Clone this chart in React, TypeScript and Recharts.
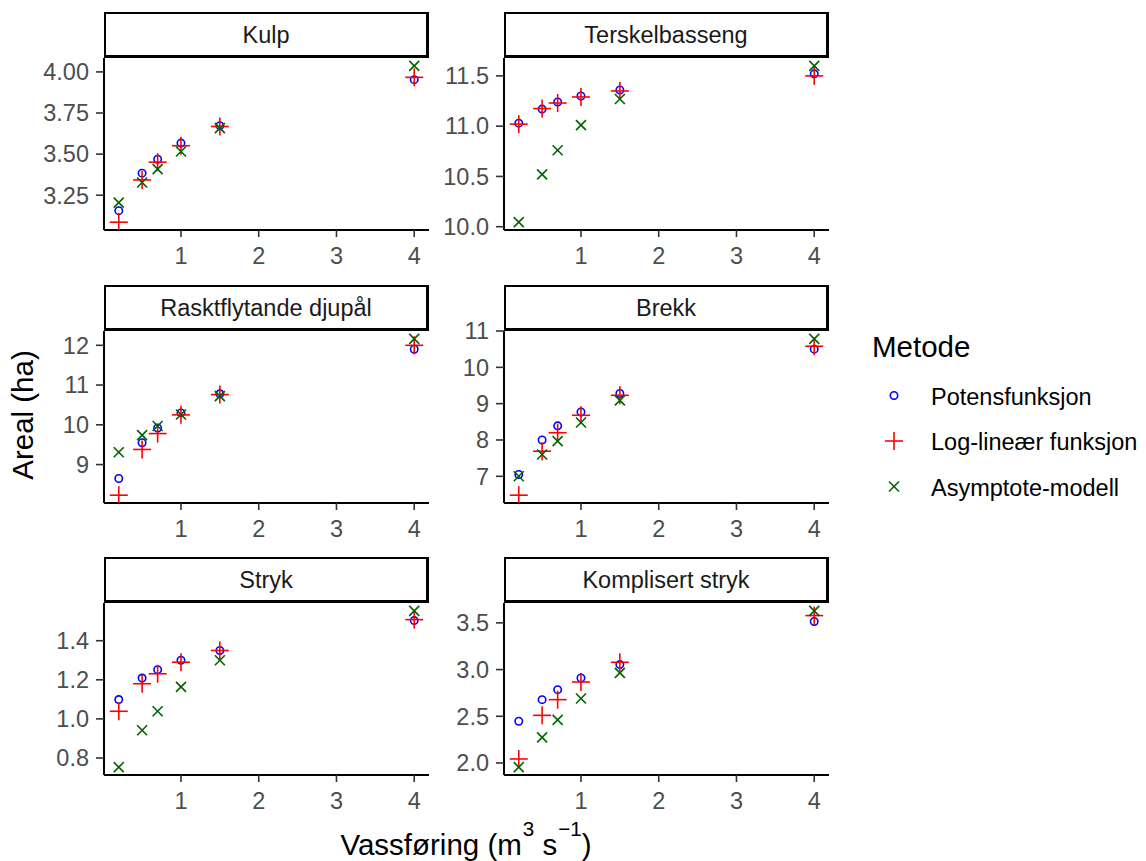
import React from 'react';
import { ScatterChart, Scatter, XAxis, YAxis } from 'recharts';

// ---------- data ----------
const xValues = [0.2, 0.5, 0.7, 1.0, 1.5, 4.0];
const xTicks = [1, 2, 3, 4];
const xTickLabels = ['1', '2', '3', '4'];

const methodNames = ['Potensfunksjon', 'Log-lineær funksjon', 'Asymptote-modell'];
const panelNames = ['Kulp', 'Terskelbasseng', 'Rasktflytande djupål', 'Brekk', 'Stryk', 'Komplisert stryk'];

const kulpPotens = [3.156, 3.384, 3.469, 3.567, 3.673, 3.953];
const kulpLogLin = [3.086, 3.343, 3.451, 3.551, 3.668, 3.967];
const kulpAsymp = [3.205, 3.327, 3.409, 3.516, 3.658, 4.037];
const kulpTicks = [3.25, 3.5, 3.75, 4.0];
const kulpTickLabels = ['3.25', '3.50', '3.75', '4.00'];

const terskelPotens = [11.03, 11.17, 11.24, 11.3, 11.36, 11.52];
const terskelLogLin = [11.02, 11.175, 11.23, 11.29, 11.35, 11.5];
const terskelAsymp = [10.045, 10.52, 10.76, 11.01, 11.27, 11.6];
const terskelTicks = [10.0, 10.5, 11.0, 11.5];
const terskelTickLabels = ['10.0', '10.5', '11.0', '11.5'];

const raskPotens = [8.65, 9.55, 9.92, 10.3, 10.78, 11.9];
const raskLogLin = [8.23, 9.38, 9.78, 10.25, 10.76, 12.0];
const raskAsymp = [9.31, 9.74, 9.97, 10.26, 10.72, 12.163];
const raskTicks = [9, 10, 11, 12];
const raskTickLabels = ['9', '10', '11', '12'];

const brekkPotens = [7.05, 8.0, 8.39, 8.77, 9.28, 10.5];
const brekkLogLin = [6.48, 7.69, 8.2, 8.68, 9.23, 10.58];
const brekkAsymp = [7.0, 7.6, 7.97, 8.48, 9.09, 10.785];
const brekkTicks = [7, 8, 9, 10, 11];
const brekkTickLabels = ['7', '8', '9', '10', '11'];

const strykPotens = [1.099, 1.209, 1.252, 1.3, 1.35, 1.503];
const strykLogLin = [1.039, 1.18, 1.231, 1.29, 1.35, 1.508];
const strykAsymp = [0.753, 0.942, 1.039, 1.164, 1.3, 1.553];
const strykTicks = [0.8, 1.0, 1.2, 1.4];
const strykTickLabels = ['0.8', '1.0', '1.2', '1.4'];

const komplPotens = [2.447, 2.678, 2.785, 2.91, 3.053, 3.515];
const komplLogLin = [2.043, 2.51, 2.678, 2.867, 3.078, 3.578];
const komplAsymp = [1.955, 2.274, 2.462, 2.69, 2.965, 3.629];
const komplTicks = [2.0, 2.5, 3.0, 3.5];
const komplTickLabels = ['2.0', '2.5', '3.0', '3.5'];

// ---------- layout / style ----------
const FONT = '"Liberation Sans", Arial, Helvetica, sans-serif';
const COL_LEFT = [104, 504];
const ROW_TOP = [58, 331, 603];
const PLOT_W = 325;
const PLOT_H = 172;
const STRIP_H = 46;
const Y_AXIS_W = 100;
const X_AXIS_H = 50;
const RIGHT_M = 14;
const TOP_M = 20;
const SMALL = 23.5;
const BIG = 29.5;

const BLUE = '#0000FF';
const RED = '#FF0000';
const GREEN = '#006400';
const SW = 1.6;

const CircleShape = (p: any) => (
  <circle cx={p.cx} cy={p.cy} r={3.7} fill="none" stroke={BLUE} strokeWidth={SW} />
);
const PlusShape = (p: any) => (
  <g stroke={RED} strokeWidth={SW}>
    <line x1={p.cx - 9} y1={p.cy} x2={p.cx + 9} y2={p.cy} />
    <line x1={p.cx} y1={p.cy - 9} x2={p.cx} y2={p.cy + 9} />
  </g>
);
const CrossShape = (p: any) => (
  <g stroke={GREEN} strokeWidth={SW}>
    <line x1={p.cx - 5} y1={p.cy - 5} x2={p.cx + 5} y2={p.cy + 5} />
    <line x1={p.cx - 5} y1={p.cy + 5} x2={p.cx + 5} y2={p.cy - 5} />
  </g>
);

const expand = (vals: number[]): [number, number] => {
  const lo = Math.min(...vals);
  const hi = Math.max(...vals);
  const r = hi - lo;
  return [lo - 0.05 * r, hi + 0.05 * r];
};

type PanelProps = {
  name: string;
  potens: number[];
  loglin: number[];
  asymp: number[];
  ticks: number[];
  tickLabels: string[];
  left: number;
  top: number;
};

function Panel({ name, potens, loglin, asymp, ticks, tickLabels, left, top }: PanelProps) {
  const toData = (ys: number[]) => xValues.map((x, i) => ({ x, y: ys[i] }));
  const yDomain = expand([...potens, ...loglin, ...asymp]);
  const xDomain = expand(xValues);
  const tickStyle = { fill: '#4D4D4D', fontSize: SMALL, fontFamily: FONT };
  return (
    <>
      <div
        style={{
          position: 'absolute',
          left,
          top: top - STRIP_H,
          width: PLOT_W,
          height: STRIP_H,
          boxSizing: 'border-box',
          border: '2px solid #000',
          borderRight: '3px solid #000',
          borderBottom: '3px solid #000',
          background: '#fff',
          display: 'flex',
          alignItems: 'center',
          justifyContent: 'center',
          fontFamily: FONT,
          fontSize: SMALL,
          color: '#1A1A1A',
          lineHeight: 1,
          paddingTop: 2,
        }}
      >
        {name}
      </div>
      <div style={{ position: 'absolute', left: left - Y_AXIS_W, top: top - TOP_M }}>
        <ScatterChart
          width={Y_AXIS_W + PLOT_W + RIGHT_M}
          height={TOP_M + PLOT_H + X_AXIS_H}
          margin={{ top: TOP_M, right: RIGHT_M, bottom: 0, left: 0 }}
        >
          <XAxis
            type="number"
            dataKey="x"
            domain={xDomain}
            allowDataOverflow
            ticks={xTicks}
            interval={0}
            tickFormatter={(v: number) => xTickLabels[xTicks.indexOf(v)]}
            height={X_AXIS_H}
            axisLine={{ stroke: '#000', strokeWidth: 2 }}
            tickLine={{ stroke: '#333', strokeWidth: 1.6 }}
            tickSize={7}
            tickMargin={10}
            tick={tickStyle}
          />
          <YAxis
            type="number"
            dataKey="y"
            domain={yDomain}
            allowDataOverflow
            ticks={ticks}
            interval={0}
            tickFormatter={(v: number) => tickLabels[ticks.indexOf(v)]}
            width={Y_AXIS_W}
            axisLine={{ stroke: '#000', strokeWidth: 2 }}
            tickLine={{ stroke: '#333', strokeWidth: 1.6 }}
            tickSize={8}
            tickMargin={7}
            tick={tickStyle}
          />
          <Scatter data={toData(potens)} shape={CircleShape} isAnimationActive={false} />
          <Scatter data={toData(loglin)} shape={PlusShape} isAnimationActive={false} />
          <Scatter data={toData(asymp)} shape={CrossShape} isAnimationActive={false} />
        </ScatterChart>
      </div>
    </>
  );
}

const panels = [
  { potens: kulpPotens, loglin: kulpLogLin, asymp: kulpAsymp, ticks: kulpTicks, tickLabels: kulpTickLabels },
  { potens: terskelPotens, loglin: terskelLogLin, asymp: terskelAsymp, ticks: terskelTicks, tickLabels: terskelTickLabels },
  { potens: raskPotens, loglin: raskLogLin, asymp: raskAsymp, ticks: raskTicks, tickLabels: raskTickLabels },
  { potens: brekkPotens, loglin: brekkLogLin, asymp: brekkAsymp, ticks: brekkTicks, tickLabels: brekkTickLabels },
  { potens: strykPotens, loglin: strykLogLin, asymp: strykAsymp, ticks: strykTicks, tickLabels: strykTickLabels },
  { potens: komplPotens, loglin: komplLogLin, asymp: komplAsymp, ticks: komplTicks, tickLabels: komplTickLabels },
];

const legendY = [395.5, 441, 486.5];

export default function App() {
  return (
    <div
      style={{
        position: 'absolute',
        left: 0,
        top: 0,
        width: 1146,
        height: 861,
        background: '#fff',
        overflow: 'hidden',
        fontFamily: FONT,
      }}
    >
      {panels.map((p, i) => (
        <Panel
          key={panelNames[i]}
          name={panelNames[i]}
          {...p}
          left={COL_LEFT[i % 2]}
          top={ROW_TOP[Math.floor(i / 2)]}
        />
      ))}
      <svg
        width={1146}
        height={861}
        style={{ position: 'absolute', left: 0, top: 0, pointerEvents: 'none' }}
      >
        <text
          x={33}
          y={415}
          transform="rotate(-90 33 415)"
          textAnchor="middle"
          fontFamily={FONT}
          fontSize={BIG}
          fill="#000"
        >
          Areal (ha)
        </text>
        <text x={466} y={855} textAnchor="middle" fontFamily={FONT} fontSize={BIG} fill="#000">
          Vassføring (m
          <tspan dx={1} dy={-19} fontSize={20.6}>3</tspan>
          <tspan dy={19}> s</tspan>
          <tspan dx={1} dy={-19} fontSize={20.6}>−1</tspan>
          <tspan dy={19}>)</tspan>
        </text>
        <text x={872} y={357} fontFamily={FONT} fontSize={BIG} fill="#000">
          Metode
        </text>
        <CircleShape cx={894} cy={legendY[0]} />
        <PlusShape cx={894} cy={legendY[1]} />
        <CrossShape cx={894} cy={legendY[2]} />
        {methodNames.map((m, i) => (
          <text key={m} x={931} y={legendY[i] + 9} fontFamily={FONT} fontSize={SMALL} fill="#000">
            {m}
          </text>
        ))}
      </svg>
    </div>
  );
}
